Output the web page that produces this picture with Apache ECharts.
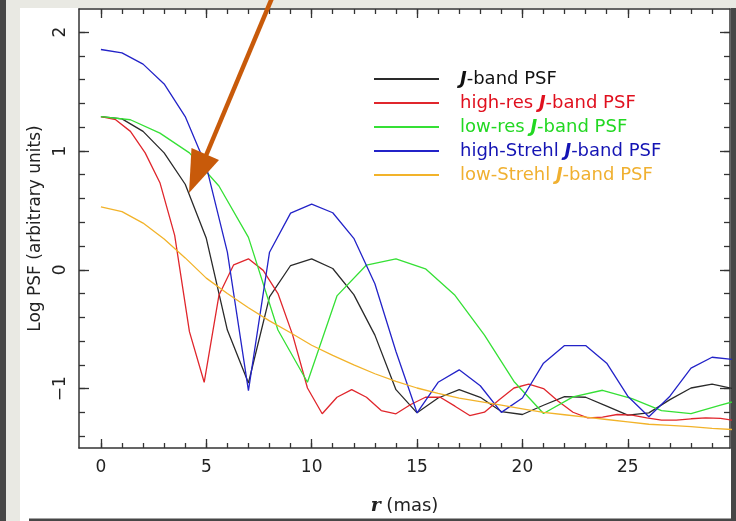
<!DOCTYPE html>
<html>
<head>
<meta charset="utf-8">
<script src="https://cdn.jsdelivr.net/npm/echarts@6/dist/echarts.min.js"></script>
<style>
html,body{margin:0;padding:0;background:#ffffff;}
#chart{width:736px;height:521px;}
</style>
</head>
<body>
<div id="chart"></div>
<script>
// ---- data ----
const seriesNames = ['J-band PSF', 'high-res J-band PSF', 'low-res J-band PSF', 'high-Strehl J-band PSF', 'low-Strehl J-band PSF'];

const rUnit = [0,1,2,3,4,5,6,7,8,9,10,11,12,13,14,15,16,17,18,19,20,21,22,23,24,25,26,27,28,29,30];
const rHighRes = [0,0.7,1.4,2.1,2.8,3.5,4.2,4.9,5.6,6.3,7.0,7.7,8.4,9.1,9.8,10.5,11.2,11.9,12.6,13.3,14.0,14.7,15.4,16.1,16.8,17.5,18.2,18.9,19.6,20.3,21.0,21.7,22.4,23.1,23.8,24.5,25.2,25.9,26.6,27.3,28.0,28.7,29.4,30.1];
const rLowRes = [0,1.4,2.8,4.2,5.6,7.0,8.4,9.8,11.2,12.6,14.0,15.4,16.8,18.2,19.6,21.0,22.4,23.8,25.2,26.6,28.0,29.4,30.8];

const psfJ = [1.29,1.27,1.165,0.984,0.72,0.265,-0.507,-0.953,-0.228,0.036,0.092,0.011,-0.209,-0.55,-1.009,-1.204,-1.079,-1.009,-1.073,-1.193,-1.218,-1.14,-1.068,-1.073,-1.148,-1.223,-1.204,-1.093,-0.995,-0.962,-1.0];
const psfHighRes = [1.29,1.263,1.165,0.984,0.733,0.29,-0.521,-0.947,-0.215,0.042,0.092,-0.005,-0.2,-0.55,-0.995,-1.212,-1.073,-1.009,-1.073,-1.185,-1.212,-1.134,-1.073,-1.073,-1.148,-1.227,-1.199,-1.093,-0.995,-0.962,-1.0,-1.106,-1.199,-1.246,-1.24,-1.218,-1.223,-1.246,-1.265,-1.265,-1.254,-1.246,-1.25,-1.27];
const psfLowRes = [1.29,1.263,1.15,0.984,0.705,0.273,-0.507,-0.947,-0.22,0.04,0.092,0.008,-0.215,-0.55,-0.94,-1.21,-1.07,-1.014,-1.084,-1.185,-1.21,-1.14,-1.07];
const psfHighStrehl = [1.854,1.826,1.731,1.564,1.29,0.87,0.148,-1.017,0.148,0.477,0.552,0.48,0.265,-0.117,-0.688,-1.204,-0.947,-0.842,-0.976,-1.2,-1.079,-0.786,-0.638,-0.638,-0.786,-1.064,-1.237,-1.064,-0.828,-0.736,-0.755];
const psfLowStrehl = [0.53,0.49,0.393,0.26,0.1,-0.07,-0.2,-0.32,-0.43,-0.53,-0.635,-0.72,-0.8,-0.875,-0.94,-0.995,-1.04,-1.08,-1.11,-1.14,-1.17,-1.2,-1.22,-1.24,-1.26,-1.28,-1.3,-1.31,-1.32,-1.335,-1.345];

const xMajorTicks = [0,5,10,15,20,25];
const xMinorTicks = [0,1,2,3,4,5,6,7,8,9,10,11,12,13,14,15,16,17,18,19,20,21,22,23,24,25,26,27,28,29];
const yMajorTicks = [-1,0,1,2];
const yMinorTicks = [-1.4,-1.2,-1,-0.8,-0.6,-0.4,-0.2,0,0.2,0.4,0.6,0.8,1,1.2,1.4,1.6,1.8,2,2.2];

// ---- styles ----
const lineColors = ['#2a2a2a', '#e0262c', '#35e035', '#2323c8', '#f2b32a'];
const textColors = ['#111111', '#e0101e', '#22d822', '#1414b4', '#f0b030'];
const axisColor = '#333333';
const X_MIN = -1.04, X_MAX = 29.85, Y_MIN = -1.5, Y_MAX = 2.195;

function pairs(xs, ys){ return ys.map((v,i)=>[xs[i], v]); }

const chart = echarts.init(document.getElementById('chart'), null, {renderer:'canvas'});

function xAx(pos, ticks, len, showLine, labels){
  return {
    type:'value', position:pos, min:X_MIN, max:X_MAX, gridIndex:0,
    axisLine:{show:showLine, onZero:false, lineStyle:{color:axisColor, width:1.5}},
    axisTick:{show:true, inside:true, length:len, customValues:ticks, lineStyle:{color:axisColor, width:1.3}},
    axisLabel: labels ? {show:true, customValues:labels, fontSize:17, color:'#222', margin:11, fontFamily:'DejaVu Sans'} : {show:false},
    splitLine:{show:false}
  };
}
function yAx(pos, ticks, len, showLine, labels){
  return {
    type:'value', position:pos, min:Y_MIN, max:Y_MAX, gridIndex:0,
    axisLine:{show:showLine, onZero:false, lineStyle:{color:axisColor, width:1.5}},
    axisTick:{show:true, inside:true, length:len, customValues:ticks, lineStyle:{color:axisColor, width:1.3}},
    axisLabel: labels ? {show:true, customValues:labels, fontSize:17, color:'#222', margin:10, rotate:90, fontFamily:'DejaVu Sans',
      formatter:(v)=>String(v).replace('-', '\u2212')} : {show:false},
    splitLine:{show:false}
  };
}

const xAxes = [
  xAx('bottom', xMajorTicks, 9, true, xMajorTicks),
  xAx('bottom', xMinorTicks, 5, false, null),
  xAx('top', xMajorTicks, 9, true, null),
  xAx('top', xMinorTicks, 5, false, null)
];
xAxes[0].name = '{r|r} (mas)';
xAxes[0].nameLocation = 'middle';
xAxes[0].nameGap = 49;
xAxes[0].nameTextStyle = {fontSize:18, color:'#222', fontFamily:'DejaVu Sans',
  rich:{r:{fontSize:19, fontStyle:'italic', fontWeight:'bold', fontFamily:'DejaVu Serif', color:'#222'}}};

const yAxes = [
  yAx('left', yMajorTicks, 10, true, yMajorTicks),
  yAx('left', yMinorTicks, 6, false, null),
  yAx('right', yMajorTicks, 10, true, null),
  yAx('right', yMinorTicks, 6, false, null)
];
yAxes[0].name = 'Log PSF (arbitrary units)';
yAxes[0].nameLocation = 'middle';
yAxes[0].nameGap = 35;
yAxes[0].nameTextStyle = {fontSize:17, color:'#222', fontFamily:'DejaVu Sans'};

const xsList = [rUnit, rHighRes, rLowRes, rUnit, rUnit];
const ysList = [psfJ, psfHighRes, psfLowRes, psfHighStrehl, psfLowStrehl];

const series = seriesNames.map((name, i) => ({
  name: name,
  type: 'line',
  xAxisIndex: 0, yAxisIndex: 0,
  data: pairs(xsList[i], ysList[i]),
  symbol: 'none',
  smooth: false,
  clip: true,
  lineStyle: {color: lineColors[i], width: 1.3},
  itemStyle: {color: lineColors[i]},
  z: 2 + i
}));

const option = {
  animation: false,
  backgroundColor: '#ffffff',
  grid: {left:79, top:9, right:6, bottom:70, containLabel:false},
  xAxis: xAxes,
  yAxis: yAxes,
  legend: {
    orient: 'vertical',
    left: 373, top: 69,
    padding: 0,
    itemWidth: 65, itemHeight: 14, itemGap: 4,
    selectedMode: false,
    itemStyle: {opacity: 0},
    lineStyle: {width: 2},
    data: seriesNames.map((n,i)=>({name:n, textStyle:{color:textColors[i]}})),
    formatter: (name) => name.replace('J-band', '{j|J}-band'),
    textStyle: {fontSize:18, lineHeight:20, fontFamily:'DejaVu Sans', padding:[0,0,0,16],
      rich:{j:{fontStyle:'italic', fontWeight:'bold', fontSize:18, lineHeight:20, fontFamily:'DejaVu Sans'}}}
  },
  graphic: [
    {type:'rect', z:-10, silent:true, shape:{x:0, y:0, width:736, height:8}, style:{fill:'#e9e9e3'}},
    {type:'rect', z:-10, silent:true, shape:{x:0, y:0, width:20, height:521}, style:{fill:'#e9e9e3'}},
    {type:'rect', z:-10, silent:true, shape:{x:0, y:0, width:6, height:521}, style:{fill:'#474747'}},
    {type:'rect', z:-10, silent:true, shape:{x:731, y:8, width:5, height:513}, style:{fill:'#474747'}},
    {type:'rect', z:-10, silent:true, shape:{x:29, y:518.5, width:707, height:2.5}, style:{fill:'#474747'}},
    {type:'line', z:100, silent:true, shape:{x1:272, y1:-2, x2:205, y2:158}, style:{stroke:'#c85a0a', lineWidth:4.5}},
    {type:'polygon', z:100, silent:true, shape:{points:[[191.5,148],[219,160],[189,193]]}, style:{fill:'#c85a0a'}}
  ],
  series: series
};
chart.setOption(option);
</script>
</body>
</html>
